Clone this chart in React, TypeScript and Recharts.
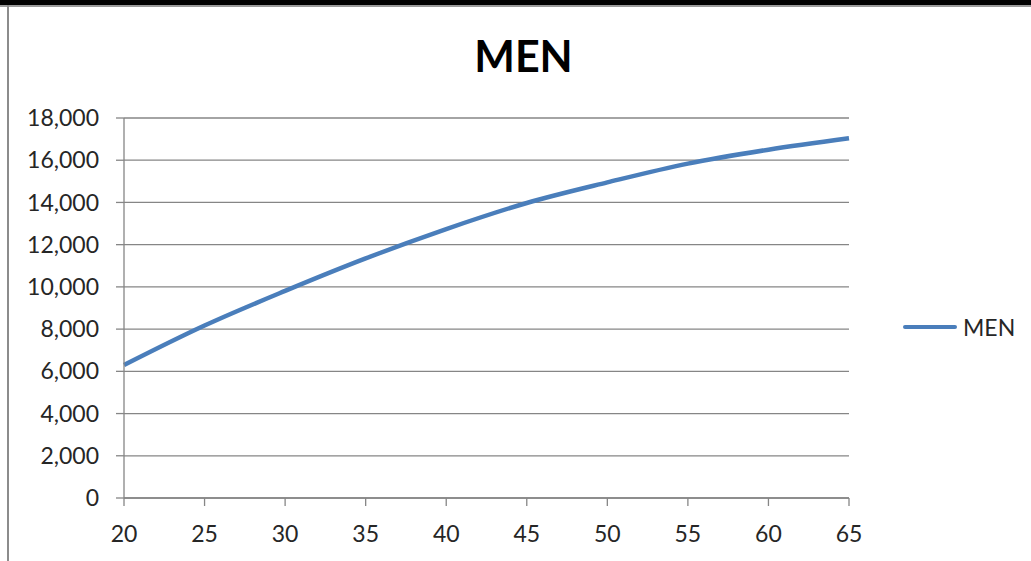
import React from "react";
import {
  LineChart,
  Line,
  XAxis,
  YAxis,
  CartesianGrid,
} from "recharts";

// earnings curve by age
const ages = [20, 25, 30, 35, 40, 45, 50, 55, 60, 65];
const menValues = [6300, 8170, 9810, 11350, 12740, 13975, 14950, 15840, 16500, 17040];
const yTicks = [0, 2000, 4000, 6000, 8000, 10000, 12000, 14000, 16000, 18000];

const data = ages.map((age, i) => ({ age, MEN: menValues[i] }));

const FONT = "Lato, 'Open Sans', sans-serif";
const TEXT = "#262626";
const AXIS = "#868686";
const BLUE = "#4a7ebb";

const fmt = (v: number) => v.toLocaleString("en-US");

export default function App() {
  return (
    <div
      style={{
        position: "relative",
        width: 1031,
        height: 561,
        background: "#fff",
        overflow: "hidden",
      }}
    >
      <style>{`body{margin:0}`}</style>
      {/* frame edges */}
      <div style={{ position: "absolute", left: 0, top: 0, width: 1031, height: 5, background: "#000" }} />
      <div style={{ position: "absolute", left: 0, top: 5, width: 1031, height: 2, background: "#9a9a9a" }} />
      <div style={{ position: "absolute", left: 7, top: 5, width: 2, height: 556, background: "#8c8c8c" }} />

      <div
        style={{
          position: "absolute",
          left: 0,
          width: 1031,
          top: 30,
          textAlign: "center",
          paddingLeft: 16,
          boxSizing: "border-box",
          fontFamily: FONT,
          fontWeight: 700,
          fontSize: 43,
          color: "#000",
          lineHeight: "52px",
        }}
      >
        MEN
      </div>

      <div style={{ position: "absolute", left: 0, top: 0 }}>
        <LineChart
          width={1031}
          height={561}
          data={data}
          margin={{ top: 118, right: 182, bottom: 0, left: 0 }}
        >
          <CartesianGrid horizontal vertical={false} stroke={AXIS} strokeWidth={1.3} />
          <XAxis
            dataKey="age"
            type="number"
            domain={[20, 65]}
            ticks={ages}
            stroke={AXIS}
            strokeWidth={1.3}
            tickSize={8}
            tickMargin={20}
            tick={{ fill: TEXT, fontSize: 23, fontFamily: FONT }}
            height={63}
          />
          <YAxis
            domain={[0, 18000]}
            ticks={yTicks}
            tickFormatter={fmt}
            stroke={AXIS}
            strokeWidth={1.3}
            tickSize={8}
            tickMargin={17}
            tick={{ fill: TEXT, fontSize: 23, fontFamily: FONT }}
            width={124}
            interval={0}
          />
          <Line
            type="monotone"
            dataKey="MEN"
            stroke={BLUE}
            strokeWidth={4.5}
            dot={false}
            isAnimationActive={false}
          />
        </LineChart>
      </div>

      {/* legend */}
      <div
        style={{
          position: "absolute",
          left: 903,
          top: 313,
          display: "flex",
          alignItems: "center",
          fontFamily: FONT,
        }}
      >
        <div style={{ width: 54, height: 4.5, background: BLUE, borderRadius: 2 }} />
        <span style={{ marginLeft: 6, fontSize: 23, color: TEXT }}>MEN</span>
      </div>
    </div>
  );
}
